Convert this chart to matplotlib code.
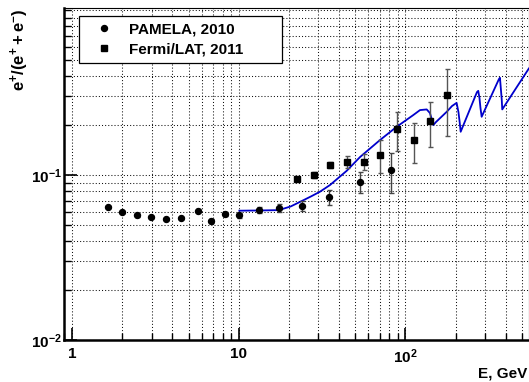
import matplotlib
matplotlib.use("Agg")
import matplotlib.pyplot as plt
from matplotlib.lines import Line2D
from matplotlib.ticker import FixedLocator, NullFormatter, FixedFormatter

plt.rcParams['font.family'] = ['Liberation Sans', 'DejaVu Sans']
plt.rcParams['font.weight'] = 'bold'
plt.rcParams['mathtext.fontset'] = 'custom'
plt.rcParams['mathtext.rm'] = 'Liberation Sans:bold'
plt.rcParams['mathtext.bf'] = 'Liberation Sans:bold'
plt.rcParams['mathtext.it'] = 'Liberation Sans:bold'
plt.rcParams['mathtext.default'] = 'bf'

# PAMELA 2010 positron fraction
pamela_E = [1.64, 2.0, 2.44, 2.99, 3.66, 4.48, 5.69, 6.78, 8.3, 10.1,
            13.2, 17.5, 23.9, 34.9, 53.5, 81.8]
pamela_frac = [0.0642, 0.0597, 0.057, 0.0556, 0.0541, 0.0548, 0.0608, 0.0524,
               0.0581, 0.0572, 0.0614, 0.0634, 0.0649, 0.0736, 0.0911, 0.107]
pamela_err = [0.001, 0.001, 0.001, 0.001, 0.001, 0.001, 0.0012, 0.0014,
              0.002, 0.002, 0.0026, 0.0037, 0.0045, 0.0077, 0.013, 0.029]

# Fermi/LAT 2011 positron fraction
fermi_E = [22.4, 28.2, 35.4, 44.6, 56.2, 70.7, 88.7, 112, 140, 178]
fermi_frac = [0.0946, 0.1004, 0.1146, 0.12, 0.1205, 0.1328, 0.19, 0.163,
              0.213, 0.305]
fermi_err = [0.003, 0.004, 0.005, 0.01, 0.0135, 0.03, 0.05, 0.045, 0.065,
             0.132]

# Model curve
model_E = [10.09, 13.4, 17.4, 20.5, 23.9, 27.0, 30.7, 35.3, 44.5, 53.4,
           70.4, 88.7, 111.5, 122.4, 134.3, 140.5, 144.4, 147, 152.6, 177,
           190.4, 203, 208.2, 211.7, 214.7, 268.9, 273.7, 278.4, 282.3,
           286.9, 364.3, 369.4, 374.6, 378.8, 381.3, 551]
model_frac = [0.0608, 0.061, 0.0613, 0.0645, 0.0696, 0.074, 0.0792, 0.087,
              0.1062, 0.1285, 0.163, 0.1962, 0.231, 0.2477, 0.25, 0.2375,
              0.2155, 0.201, 0.2096, 0.2418, 0.262, 0.274, 0.2408, 0.2096,
              0.183, 0.3184, 0.324, 0.2928, 0.2547, 0.2256, 0.3818, 0.389,
              0.3275, 0.2848, 0.25, 0.443]

x_major = [1, 10, 100]
x_labels = ['1', '10', r'$10^{2}$']
y_major = [0.01, 0.1]
y_labels = [r'$10^{-2}$', r'$10^{-1}$']

W, H = 529, 382
fig = plt.figure(figsize=(W / 100, H / 100), dpi=100)
ax = fig.add_axes([64 / W, 1 - 340 / H, 464.5 / W, 332 / H])
ax.set_xscale('log')
ax.set_yscale('log')
ax.set_xlim(0.895, 548)
ax.set_ylim(0.01, 1.03)

x_minor = [m * 10 ** d for d in range(-1, 3) for m in range(2, 10)]
x_minor = [v for v in x_minor if 0.895 < v < 548]
y_minor = [m * 10 ** d for d in (-2, -1) for m in range(2, 10)] + [1.0]
ax.xaxis.set_major_locator(FixedLocator(x_major))
ax.xaxis.set_major_formatter(FixedFormatter(x_labels))
ax.xaxis.set_minor_locator(FixedLocator(x_minor))
ax.xaxis.set_minor_formatter(NullFormatter())
ax.yaxis.set_major_locator(FixedLocator(y_major))
ax.yaxis.set_major_formatter(FixedFormatter(y_labels))
ax.yaxis.set_minor_locator(FixedLocator(y_minor))
ax.yaxis.set_minor_formatter(NullFormatter())

ax.grid(True, which='both', color='#111111', linewidth=0.75,
        linestyle=(0, (1, 2)))
ax.set_axisbelow(True)

ax.tick_params(which='both', direction='in', top=False, right=False,
               labelsize=11, colors='black')
ax.tick_params(which='major', length=9, width=1.2)
ax.tick_params(which='minor', length=5, width=1.0)
ax.tick_params(axis='x', which='major', pad=5)
ax.tick_params(axis='y', which='major', pad=1.5)
for side in ('left', 'bottom'):
    ax.spines[side].set_linewidth(1.8)
for side in ('top', 'right'):
    ax.spines[side].set_linewidth(0.8)

ax.plot(model_E, model_frac, color='#0000cc', linewidth=1.3, zorder=3)

ax.errorbar(pamela_E, pamela_frac, yerr=pamela_err, fmt='o', color='black',
            markersize=4.3, ecolor='#444444', elinewidth=1.0, capsize=1.8,
            capthick=1.0, zorder=4)
ax.errorbar(fermi_E, fermi_frac, yerr=fermi_err, fmt='s', color='black',
            markersize=4.6, ecolor='#555555', elinewidth=1.0, capsize=1.8,
            capthick=1.0, zorder=4)

handles = [Line2D([], [], marker='o', linestyle='none', color='black',
                  markersize=4.3),
           Line2D([], [], marker='s', linestyle='none', color='black',
                  markersize=4.3)]
leg = ax.legend(handles, ['PAMELA, 2010', 'Fermi/LAT, 2011'],
                loc='upper left', bbox_to_anchor=((79 - 64) / 464.5,
                                                  (340 - 16) / 332,
                                                  (282 - 79) / 464.5, 0.0),
                mode='expand', frameon=True, fancybox=False,
                edgecolor='black', framealpha=1, fontsize=11,
                handlelength=2.4, handletextpad=0.46, borderpad=0.42,
                labelspacing=0.42, borderaxespad=0)
leg.get_frame().set_linewidth(0.9)
for t in leg.get_texts():
    t.set_fontweight('bold')

fig.text(20 / W, 1 - 9 / H, r'$e^{+}/(e^{+} + e^{-})$', rotation=90,
         ha='center', va='top', fontsize=12)
fig.text(527 / W, 1 - 373 / H, 'E, GeV', ha='right', va='center',
         fontsize=11, fontweight='bold')

fig.savefig('out.png', dpi=100)
